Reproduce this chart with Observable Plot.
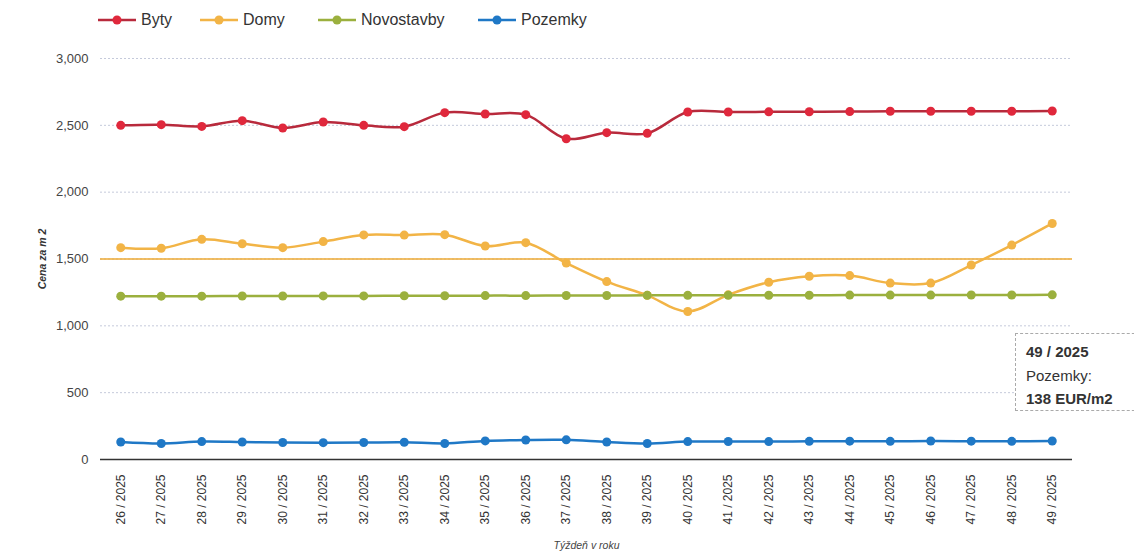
<!DOCTYPE html>
<html>
<head>
<meta charset="utf-8">
<script src="https://cdn.jsdelivr.net/npm/d3@7"></script>
<script src="https://cdn.jsdelivr.net/npm/@observablehq/plot@0.6"></script>
<style>
  html, body { margin: 0; padding: 0; background: #fff; }
  body { width: 1134px; height: 553px; position: relative; overflow: hidden; font-family: "Liberation Sans", Arial, sans-serif; }
  #legend { position: absolute; left: 0; top: 0; height: 40px; width: 1134px; }
  .lg { position: absolute; top: 8px; display: flex; align-items: center; font-size: 16px; color: #333; height: 24px; }
  .lg svg { margin-right: 5px; }
  #chart { position: absolute; left: 0; top: 40px; }
  #tip { position: absolute; left: 1015px; top: 333px; width: 130px; height: 78px; border: 1px dashed #aaa; background: #fff;
         box-sizing: border-box; padding: 6px 0 0 10px; font-size: 15px; line-height: 23.5px; color: #333; }
  #tip b { font-weight: bold; }
</style>
</head>
<body>
<div id="legend"></div>
<div id="chart"></div>
<div id="tip"></div>
<script>
// ---- data ----
const weeks = ["26 / 2025","27 / 2025","28 / 2025","29 / 2025","30 / 2025","31 / 2025","32 / 2025","33 / 2025",
  "34 / 2025","35 / 2025","36 / 2025","37 / 2025","38 / 2025","39 / 2025","40 / 2025","41 / 2025",
  "42 / 2025","43 / 2025","44 / 2025","45 / 2025","46 / 2025","47 / 2025","48 / 2025","49 / 2025"];
const byty = [2500, 2505, 2492, 2535, 2480, 2525, 2500, 2490, 2595, 2585, 2580, 2400, 2445, 2440,
  2600, 2600, 2601, 2602, 2603, 2605, 2605, 2605, 2605, 2607];
const domy = [1585, 1580, 1647, 1614, 1585, 1630, 1680, 1679, 1682, 1597, 1622, 1470, 1331, 1228,
  1107, 1232, 1326, 1371, 1376, 1320, 1320, 1455, 1604, 1766];
const novostavby = [1222, 1222, 1222, 1223, 1223, 1224, 1224, 1225, 1225, 1226, 1226, 1227, 1227, 1228,
  1228, 1228, 1229, 1229, 1230, 1230, 1230, 1231, 1231, 1232];
const pozemky = [131, 120, 134, 131, 127, 126, 127, 129, 120, 139, 146, 147, 131, 120,
  134, 135, 134, 136, 137, 136, 138, 137, 136, 138];
const seriesNames = ["Byty", "Domy", "Novostavby", "Pozemky"];
const seriesValues = [byty, domy, novostavby, pozemky];
const yTicks = [0, 500, 1000, 1500, 2000, 2500, 3000];
const refLine = [1500];
const xTitle = "Týždeň v roku";
const yTitle = "Cena za m 2";
const unit = "EUR/m2";

// ---- styles ----
const dotColors = ["#e0283c", "#f2b446", "#9bb03e", "#1f78c6"];
const lineColors = ["#b82a3c", "#f2b446", "#9bb03e", "#1f78c6"];

const rows = [];
seriesNames.forEach((s, i) => weeks.forEach((w, j) => rows.push({week: w, series: s, value: seriesValues[i][j]})));

// legend
const lgX = [98, 200, 318, 478];
const legend = document.getElementById("legend");
seriesNames.forEach((s, i) => {
  const d = document.createElement("div");
  d.className = "lg";
  d.style.left = lgX[i] + "px";
  d.innerHTML = `<svg width="38" height="12"><line x1="0" y1="6" x2="38" y2="6" stroke="${lineColors[i]}" stroke-width="2.5"/><circle cx="19" cy="6" r="4.5" fill="${dotColors[i]}"/></svg><span>${s}</span>`;
  legend.appendChild(d);
});

const chart = Plot.plot({
  width: 1134,
  height: 513,
  marginLeft: 100,
  marginRight: 62,
  marginTop: 18,
  marginBottom: 94,
  style: {fontFamily: "Liberation Sans, Arial, sans-serif", background: "#fff"},
  x: {type: "point", domain: weeks, padding: 0.5, round: false},
  y: {domain: [0, 3000]},
  marks: [
    Plot.gridY(yTicks.filter(d => d > 0), {stroke: "#c5cadb", strokeOpacity: 1, strokeDasharray: "2,2"}),
    Plot.ruleY(refLine, {stroke: "#eeaa33", strokeWidth: 1.3}),
    Plot.ruleY([0], {stroke: "#333", strokeWidth: 1.5}),
    Plot.axisY({ticks: yTicks, tickSize: 0, tickPadding: 12, tickFormat: d3.format(","), fontSize: 13, fill: "#444", label: null}),
    Plot.axisX({tickSize: 0, tickRotate: -90, tickPadding: 15, fontSize: 12, fill: "#333", label: null}),
    ...seriesNames.map((s, i) => Plot.line(rows.filter(r => r.series === s), {
      x: "week", y: "value", stroke: lineColors[i], strokeWidth: 2.5, curve: "catmull-rom"})),
    ...seriesNames.map((s, i) => Plot.dot(rows.filter(r => r.series === s), {
      x: "week", y: "value", fill: dotColors[i], r: 4.5})),
    Plot.text([xTitle], {frameAnchor: "bottom", dy: 89, fontSize: 10.5, fontStyle: "italic", fill: "#444"}),
    Plot.text([yTitle], {frameAnchor: "left", textAnchor: "middle", dx: -58, rotate: -90, fontSize: 10.5, fontStyle: "italic", fontWeight: "bold", fill: "#333"})
  ]
});
document.getElementById("chart").appendChild(chart);

// tooltip
const last = weeks.length - 1;
document.getElementById("tip").innerHTML =
  `<b>${weeks[last]}</b><br>${seriesNames[3]}:<br><b>${pozemky[last]} ${unit}</b>`;
</script>
</body>
</html>
